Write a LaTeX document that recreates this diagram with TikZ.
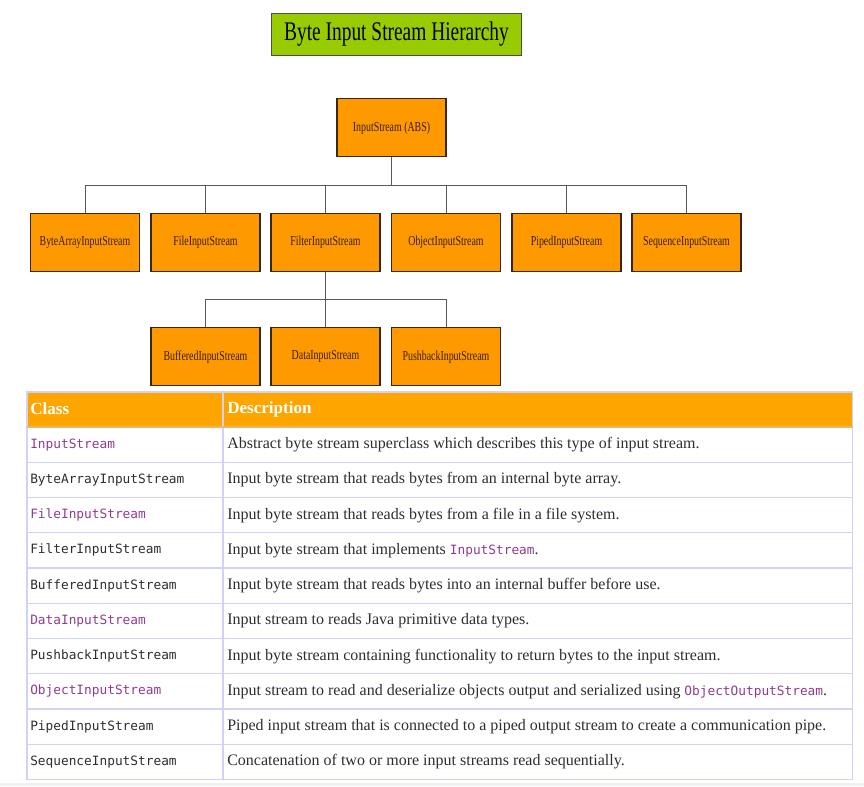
\documentclass[tikz,border=0pt]{standalone}
\usepackage{fontspec}
\setmainfont{Liberation Serif}
\newfontfamily\boxfont[FakeStretch=0.72]{Liberation Serif}
\newfontfamily\codefont{DejaVu Sans Mono}
\usepackage{tikz}
\definecolor{boxorange}{HTML}{FF9900}
\definecolor{titlegreen}{HTML}{99CC00}
\definecolor{headorange}{HTML}{FFA500}
\definecolor{gridblue}{HTML}{D2D2F6}
\definecolor{codepurple}{HTML}{8E3C8E}
\definecolor{boxtext}{HTML}{3A1E08}
\definecolor{bodytext}{HTML}{2E2E2E}
\newcommand{\cls}[1]{{\codefont\fontsize{9.6pt}{11pt}\selectfont\color{codepurple}#1}}

\begin{document}
\begin{tikzpicture}[x=0.75pt, y=-0.75pt,
	link/.style={draw=black!65, line width=0.7pt},
	cbox/.style={draw=black!70!brown, line width=0.9pt, fill=boxorange, text=boxtext, inner sep=0pt,
		minimum width=81.75pt, minimum height=43.5pt, font=\boxfont\fontsize{10.3pt}{12pt}\selectfont},
	titlebox/.style={draw=black!70, line width=0.8pt, fill=titlegreen, inner sep=0pt,
		minimum width=188pt, minimum height=32pt, font=\boxfont\fontsize{20.2pt}{22pt}\selectfont},
	cell/.style={anchor=west, inner sep=0pt, text=bodytext, font=\fontsize{12pt}{14pt}\selectfont},
	code/.style={anchor=west, inner sep=0pt, font=\codefont\fontsize{9.6pt}{11pt}\selectfont},
	head/.style={anchor=west, inner sep=0pt, text=white, font=\bfseries\fontsize{12.8pt}{14pt}\selectfont}]
	\useasboundingbox (0,0) rectangle (864,786);
	\fill[black!6] (0,783) rectangle (864,786);

	\node[titlebox] (title) at (396.5, 34.5) {Byte Input Stream Hierarchy};

	\node[cbox] (is) at (391.5, 127.7) {InputStream (ABS)};
	\node[cbox] (bais) at (85, 242.2) {ByteArrayInputStream};
	\node[cbox] (fis) at (205.5, 242.2) {FileInputStream};
	\node[cbox] (filter) at (325.5, 242.2) {FilterInputStream};
	\node[cbox] (ois) at (446, 242.2) {ObjectInputStream};
	\node[cbox] (pis) at (566.5, 242.2) {PipedInputStream};
	\node[cbox] (sis) at (686.5, 242.2) {SequenceInputStream};
	\node[cbox] (bis) at (205.5, 356.7) {BufferedInputStream};
	\node[cbox] (dis) at (325.5, 356.7) {DataInputStream};
	\node[cbox] (pbis) at (446, 356.7) {PushbackInputStream};

	\coordinate (bus1) at (391.5, 185);
	\coordinate (bus2) at (325.5, 299.7);
	\foreach \c in {bais, fis, filter, ois, pis, sis}
		\draw[link] (is.south) -- (bus1) -| (\c.north);
	\foreach \c in {bis, dis, pbis}
		\draw[link] (filter.south) -- (bus2) -| (\c.north);

	\fill[headorange] (27, 392) rectangle (852.5, 427);
	\node[head] (hclass) at (30, 409) {Class};
	\node[head] (hdesc) at (227, 409) {Description};
	\foreach \n/\c/\d [count=\i] in {
		{InputStream}/codepurple/{Abstract byte stream superclass which describes this type of input stream.},
		{ByteArrayInputStream}/bodytext/{Input byte stream that reads bytes from an internal byte array.},
		{FileInputStream}/codepurple/{Input byte stream that reads bytes from a file in a file system.},
		{FilterInputStream}/bodytext/{Input byte stream that implements \cls{InputStream}.},
		{BufferedInputStream}/bodytext/{Input byte stream that reads bytes into an internal buffer before use.},
		{DataInputStream}/codepurple/{Input stream to reads Java primitive data types.},
		{PushbackInputStream}/bodytext/{Input byte stream containing functionality to return bytes to the input stream.},
		{ObjectInputStream}/codepurple/{Input stream to read and deserialize objects output and serialized using \cls{ObjectOutputStream}.},
		{PipedInputStream}/bodytext/{Piped input stream that is connected to a piped output stream to create a communication pipe.},
		{SequenceInputStream}/bodytext/{Concatenation of two or more input streams read sequentially.}} {
		\node[code, text=\c] (name\i) at (30, 427 + 35.25*\i - 17.6) {\n};
		\node[cell] (desc\i) at (227, 427 + 35.25*\i - 17.6) {\d};
		\draw[gridblue, line width=0.9pt] (27, 427 + 35.25*\i) -- (852.5, 427 + 35.25*\i);
	}
	\draw[gridblue, line width=0.9pt] (27, 392) rectangle (852.5, 779.75);
	\draw[gridblue, line width=0.9pt] (223, 392) -- (223, 779.75);
	\draw[headorange!60!gridblue, line width=0.9pt] (27, 427) -- (852.5, 427);
\end{tikzpicture}
\end{document}
